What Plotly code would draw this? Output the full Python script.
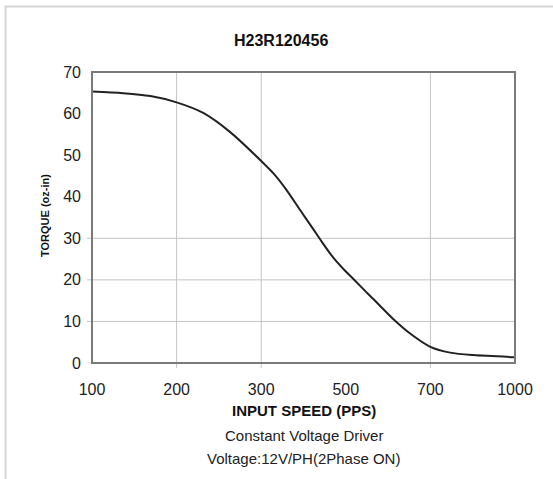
import numpy as np
import plotly.graph_objects as go

# ---- data ----
tick_speeds = [100, 200, 300, 500, 700, 1000]
tick_labels = ["100", "200", "300", "500", "700", "1000"]
speed_pps = [100, 137, 169, 200, 232, 263, 300, 329, 360, 392, 423, 443, 470, 500,
             518, 549, 565, 612, 652, 700, 770, 852, 1000]
torque_ozin = [65.3, 64.9, 64.2, 62.7, 60.1, 55.6, 48.6, 45.6, 41.6, 36.8, 32.2, 29.2, 25.4, 22.0,
               20.2, 17.0, 15.4, 10.6, 7.1, 3.9, 2.5, 1.9, 1.4]
grid_x_speeds = [200, 300, 700]
grid_y_vals = [0, 10, 20, 30]
y_ticks = [0, 10, 20, 30, 40, 50, 60, 70]

# axis positions (evenly spaced category-like axis)
tick_pos = list(range(len(tick_speeds)))
x_pos = np.interp(speed_pps, tick_speeds, tick_pos)
grid_x_pos = np.interp(grid_x_speeds, tick_speeds, tick_pos)

W, H = 553, 479
L, R, T, B = 92, 515, 72, 363
pw, ph = R - L, B - T

def px(x):
    return (x - L) / pw

def py(y):
    return (B - y) / ph

FONT = "Liberation Sans, Arial, sans-serif"
fig = go.Figure()
fig.add_trace(go.Scatter(
    x=x_pos, y=torque_ozin, mode="lines",
    line=dict(color="#222222", width=2, shape="spline", smoothing=0.8),
    hoverinfo="skip", showlegend=False,
))

shapes = []
for gx in grid_x_pos:
    shapes.append(dict(type="line", xref="x", yref="paper", x0=gx, x1=gx,
                       y0=py(368), y1=1, line=dict(color="#c4c4c4", width=1), layer="below"))
for gy in grid_y_vals:
    shapes.append(dict(type="line", xref="paper", yref="y", x0=px(87), x1=1,
                       y0=gy, y1=gy, line=dict(color="#c4c4c4", width=1), layer="below"))
# plot frame
shapes.append(dict(type="rect", xref="paper", yref="paper", x0=0, x1=1, y0=0, y1=1,
                   line=dict(color="#7a7a7a", width=2), layer="above"))
# outer light border
shapes.append(dict(type="rect", xref="paper", yref="paper", x0=px(5.5), x1=px(620),
                   y0=py(540), y1=py(6.5), line=dict(color="#d6d6d6", width=2), layer="below"))

annotations = [
    dict(text="<b>H23R120456</b>", x=px(281), y=py(41), xref="paper", yref="paper",
         showarrow=False, font=dict(family=FONT, size=16, color="#111"), xanchor="center", yanchor="middle"),
    dict(text="<b>TORQUE (oz-in)</b>", x=px(45), y=py(216), xref="paper", yref="paper",
         showarrow=False, textangle=-90, font=dict(family=FONT, size=11, color="#111"),
         xanchor="center", yanchor="middle"),
    dict(text="<b>INPUT SPEED (PPS)</b>", x=px(303.5), y=py(410), xref="paper", yref="paper",
         showarrow=False, font=dict(family=FONT, size=15, color="#111"), xanchor="center", yanchor="middle"),
    dict(text="Constant Voltage Driver", x=px(303.5), y=py(435), xref="paper", yref="paper",
         showarrow=False, font=dict(family=FONT, size=15, color="#222"), xanchor="center", yanchor="middle"),
    dict(text="Voltage:12V/PH(2Phase ON)", x=px(303.5), y=py(458), xref="paper", yref="paper",
         showarrow=False, font=dict(family=FONT, size=15, color="#222"), xanchor="center", yanchor="middle"),
]

fig.update_layout(
    width=W, height=H,
    margin=dict(l=L, r=W - R, t=T, b=H - B),
    paper_bgcolor="white", plot_bgcolor="rgba(0,0,0,0)",
    shapes=shapes, annotations=annotations,
    xaxis=dict(range=[0, 5], tickvals=tick_pos, ticktext=tick_labels, showgrid=False,
               zeroline=False, showline=False, ticks="", ticklabelstandoff=15,
               tickfont=dict(family=FONT, size=16, color="#222"), fixedrange=True),
    yaxis=dict(range=[0, 70], tickvals=y_ticks, showgrid=False, zeroline=False,
               showline=False, ticks="", ticklabelstandoff=10,
               tickfont=dict(family=FONT, size=16, color="#222"), fixedrange=True),
)
fig.write_html("out.html", config={"displayModeBar": False},
               post_script="document.body.style.margin='0';document.body.style.overflow='hidden';")
